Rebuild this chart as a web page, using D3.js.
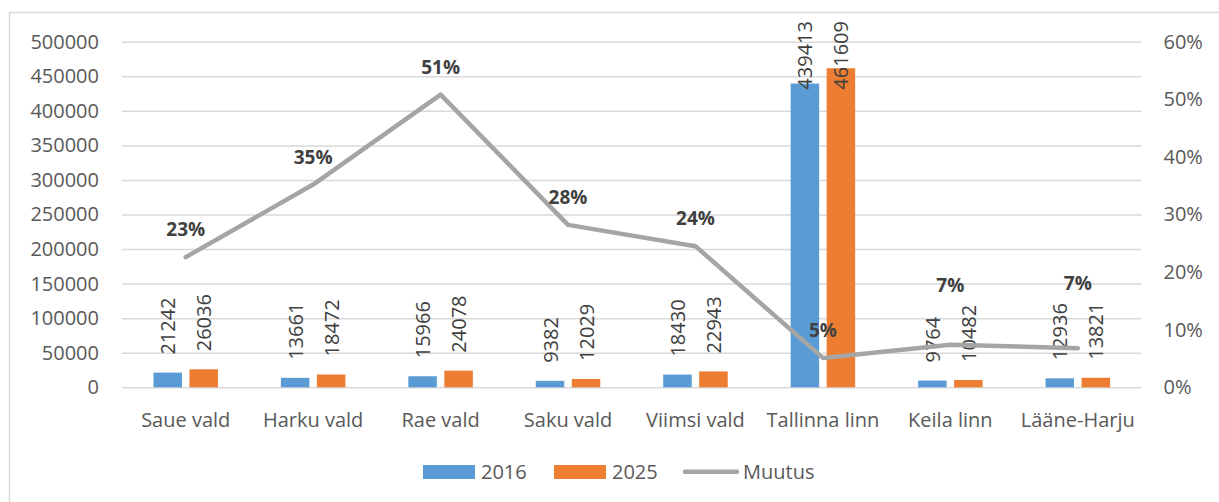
<!DOCTYPE html>
<html>
<head>
<meta charset="utf-8">
<script src="https://cdn.jsdelivr.net/npm/d3@7"></script>
<style>
  body { margin: 0; background: #fff; }
  svg { display: block; font-family: 'Open Sans', 'Noto Sans', sans-serif; }
</style>
</head>
<body>
<div id="graf"></div>
<script>
const kohad = ['Saue vald', 'Harku vald', 'Rae vald', 'Saku vald', 'Viimsi vald', 'Tallinna linn', 'Keila linn', 'Lääne-Harju']
const v2016 = [21242, 13661, 15966, 9382, 18430, 439413, 9764, 12936]
const v2025 = [26036, 18472, 24078, 12029, 22943, 461609, 10482, 13821]
const muutus = [0.226, 0.352, 0.508, 0.282, 0.245, 0.051, 0.074, 0.068]
const muutusSilt = ['23%', '35%', '51%', '28%', '24%', '5%', '7%', '7%']
const vasakTicks = [0, 50000, 100000, 150000, 200000, 250000, 300000, 350000, 400000, 450000, 500000]
const paremTicks = [0, 0.1, 0.2, 0.3, 0.4, 0.5, 0.6]

const anchoTotal = 1219
const altoTotal = 502
const sinine = '#5B9BD5'
const oranz = '#ED7D31'
const hall = '#A5A5A5'
const tekst = '#595959'

const svg = d3.select('#graf')
  .append('svg')
  .attr('width', anchoTotal)
  .attr('height', altoTotal)

// chart border
svg.append('rect')
  .attr('x', 9.5).attr('y', 12.5)
  .attr('width', 1300).attr('height', 600)
  .attr('fill', 'none')
  .attr('stroke', '#D9D9D9')
  .attr('stroke-width', 1.5)

const plot = { left: 122, right: 1141.5, top: 41.7, bottom: 387.3 }

const x = d3.scaleBand().domain(kohad).range([plot.left, plot.right])
const y = d3.scaleLinear().domain([0, 500000]).range([plot.bottom, plot.top])
const y2 = d3.scaleLinear().domain([0, 0.6]).range([plot.bottom, plot.top])

// gridlines + left axis
const yAxis = svg.append('g')
  .attr('transform', `translate(${plot.left},0)`)
  .call(d3.axisLeft(y).tickValues(vasakTicks).tickSize(-(plot.right - plot.left)).tickPadding(23).tickFormat(d => d))
yAxis.select('.domain').remove()
yAxis.selectAll('line').attr('stroke', '#D9D9D9').attr('stroke-width', 1.5)
yAxis.selectAll('text').attr('fill', tekst).attr('font-size', 20).attr('font-family', "'Open Sans', sans-serif")

// right axis
const y2Axis = svg.append('g')
  .attr('transform', `translate(${plot.right},0)`)
  .call(d3.axisRight(y2).tickValues(paremTicks).tickSize(0).tickPadding(22).tickFormat(d3.format('.0%')))
y2Axis.select('.domain').remove()
y2Axis.selectAll('text').attr('fill', tekst).attr('font-size', 20).attr('font-family', "'Open Sans', sans-serif")

// x labels
svg.append('g').selectAll('text').data(kohad).enter()
  .append('text')
  .attr('x', d => x(d) + x.bandwidth() / 2)
  .attr('y', 427)
  .attr('text-anchor', 'middle')
  .attr('fill', tekst)
  .attr('font-size', 20)
  .text(d => d)

const bw = 28.5, gap = 7.5

const seeriad = [
  { vals: v2016, color: sinine, dx: -gap / 2 - bw },
  { vals: v2025, color: oranz, dx: gap / 2 }
]

seeriad.forEach(s => {
  svg.append('g').selectAll('rect').data(kohad).enter()
    .append('rect')
    .attr('x', (d, i) => x(d) + x.bandwidth() / 2 + s.dx)
    .attr('y', (d, i) => y(s.vals[i]))
    .attr('width', bw)
    .attr('height', (d, i) => plot.bottom - y(s.vals[i]))
    .attr('fill', s.color)
})

// bar labels (rotated), remember their vertical extent per category
const siltAla = kohad.map(() => ({ top: Infinity, bottom: -Infinity }))
seeriad.forEach(s => {
  svg.append('g').selectAll('text').data(kohad).enter()
    .append('text')
    .attr('fill', '#404040')
    .attr('font-size', 20)
    .attr('dominant-baseline', 'central')
    .text((d, i) => s.vals[i])
    .each(function (d, i) {
      const len = this.getComputedTextLength()
      const cx = x(d) + x.bandwidth() / 2 + s.dx + bw / 2
      let sy = y(s.vals[i]) - 18
      if (sy - len < 21) sy = 21 + len
      siltAla[i].top = Math.min(siltAla[i].top, sy - len)
      siltAla[i].bottom = Math.max(siltAla[i].bottom, sy)
      d3.select(this).attr('transform', `translate(${cx},${sy}) rotate(-90)`)
    })
})

// Muutus line
const joon = d3.line()
  .x((d, i) => x(kohad[i]) + x.bandwidth() / 2)
  .y(d => y2(d))

svg.append('path')
  .datum(muutus)
  .attr('d', joon)
  .attr('fill', 'none')
  .attr('stroke', hall)
  .attr('stroke-width', 4.5)
  .attr('stroke-linecap', 'round')
  .attr('stroke-linejoin', 'round')

// percent labels, pushed above the bar labels when they would collide
svg.append('g').selectAll('text').data(muutus).enter()
  .append('text')
  .attr('x', (d, i) => x(kohad[i]) + x.bandwidth() / 2)
  .attr('y', (d, i) => {
    let b = y2(d) - 21
    const a = siltAla[i]
    if (b > a.top - 2 && b - 14 < a.bottom) b = a.top - 13
    return b
  })
  .attr('text-anchor', 'middle')
  .attr('fill', '#404040')
  .attr('font-size', 19)
  .attr('font-weight', 'bold')
  .text((d, i) => muutusSilt[i])

// legend
const leg = svg.append('g')
leg.append('rect').attr('x', 423).attr('y', 465).attr('width', 52).attr('height', 14).attr('fill', sinine)
leg.append('text').attr('x', 481).attr('y', 479).attr('fill', tekst).attr('font-size', 20).text('2016')
leg.append('rect').attr('x', 554).attr('y', 465).attr('width', 52).attr('height', 14).attr('fill', oranz)
leg.append('text').attr('x', 612).attr('y', 479).attr('fill', tekst).attr('font-size', 20).text('2025')
leg.append('line').attr('x1', 685).attr('x2', 737).attr('y1', 471.7).attr('y2', 471.7)
  .attr('stroke', hall).attr('stroke-width', 4.5).attr('stroke-linecap', 'round')
leg.append('text').attr('x', 743).attr('y', 479).attr('fill', tekst).attr('font-size', 20).text('Muutus')
</script>
</body>
</html>
